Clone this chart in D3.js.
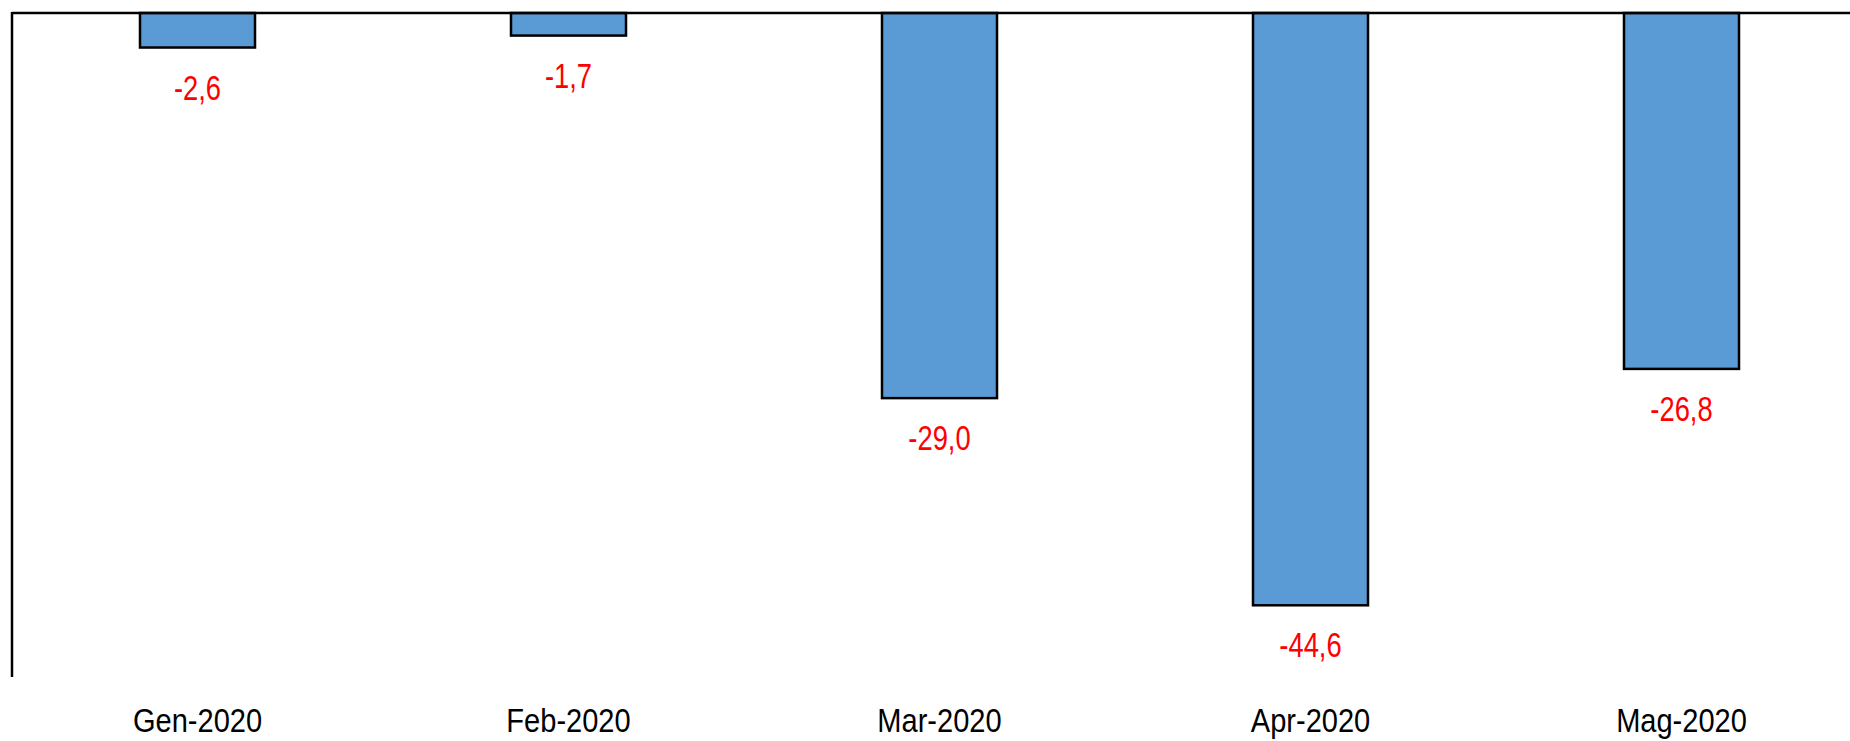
<!DOCTYPE html>
<html><head><meta charset="utf-8">
<script src="https://cdn.jsdelivr.net/npm/d3@7"></script>
<style>html,body{margin:0;padding:0;background:#fff;overflow:hidden}</style>
</head><body>
<svg id="chart" width="1850" height="741"></svg>
<script>
const categories = ["Gen-2020", "Feb-2020", "Mar-2020", "Apr-2020", "Mag-2020"];
const values = [-2.6, -1.7, -29.0, -44.6, -26.8];
const valueLabels = ["-2,6", "-1,7", "-29,0", "-44,6", "-26,8"];

(function () {
const svg = d3.select("#chart");
const mLeft = 12, bandW = 371, mTop = 13, mBottom = 677;
const x = d3.scaleBand().domain(categories).range([mLeft, mLeft + bandW * categories.length]).paddingInner(0.69).paddingOuter(0.345);
const y = d3.scaleLinear().domain([-50, 0]).range([mBottom, mTop]);

// bars
svg.selectAll("rect.bar").data(values).join("rect")
  .attr("class", "bar")
  .attr("x", (d, i) => x(categories[i]))
  .attr("width", x.bandwidth())
  .attr("y", y(0))
  .attr("height", d => y(d) - y(0))
  .attr("fill", "#5B9BD5")
  .attr("stroke", "#000")
  .attr("stroke-width", 2.5);

// zero line (top)
svg.append("line").attr("x1", mLeft).attr("x2", 1850).attr("y1", y(0)).attr("y2", y(0))
  .attr("stroke", "#000").attr("stroke-width", 2.5);
// left axis
svg.append("line").attr("x1", mLeft).attr("x2", mLeft).attr("y1", y(0) - 1).attr("y2", mBottom)
  .attr("stroke", "#000").attr("stroke-width", 2.5);

// value labels
svg.selectAll("text.val").data(values).join("text")
  .attr("class", "val")
  .attr("transform", (d, i) => `translate(${x(categories[i]) + x.bandwidth() / 2},${y(d) + 52}) scale(0.76,1)`)
  .attr("text-anchor", "middle")
  .attr("font-family", "Liberation Sans, Arial, sans-serif")
  .attr("font-size", 36)
  .attr("fill", "#FF0000")
  .text((d, i) => valueLabels[i]);

// category labels
svg.selectAll("text.cat").data(categories).join("text")
  .attr("class", "cat")
  .attr("transform", d => `translate(${x(d) + x.bandwidth() / 2},732) scale(0.88,1)`)
  .attr("text-anchor", "middle")
  .attr("font-family", "Liberation Sans, Arial, sans-serif")
  .attr("font-size", 33)
  .attr("fill", "#000")
  .text(d => d);
})();
</script>
</body></html>
